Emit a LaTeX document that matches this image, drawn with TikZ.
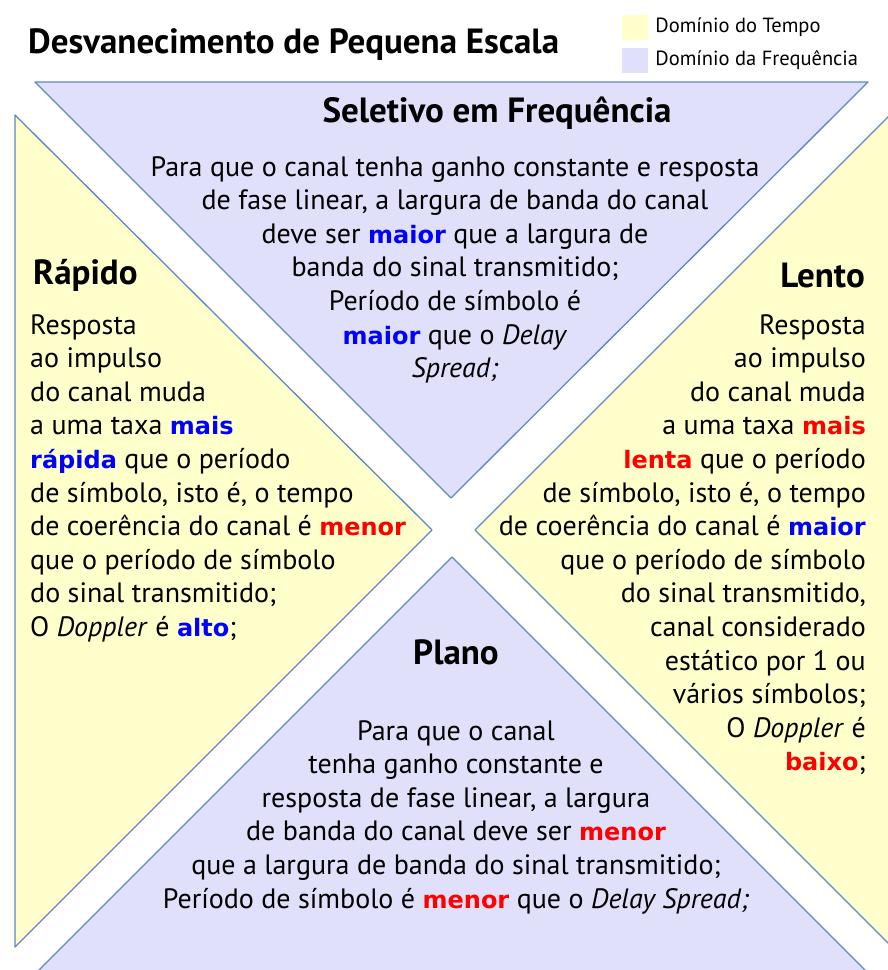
\documentclass[tikz,border=0pt]{standalone}
\usepackage{fontspec}
\setmainfont{PT Sans}
\newfontfamily\wordfont{DejaVu Sans}
\usetikzlibrary{positioning}
\definecolor{lavfill}{RGB}{224,224,250}
\definecolor{yelfill}{RGB}{255,255,204}
\definecolor{edgeblue}{RGB}{95,135,200}
\tikzstyle{freq}  = [
    fill=lavfill,
    draw=edgeblue,
    line width=1.3pt,
    line join=round
]
\tikzstyle{tempo} = [
    fill=yelfill,
    draw=edgeblue,
    line width=1.3pt,
    line join=round
]
\tikzstyle{legbox} = [
    minimum width=26pt,
    minimum height=25pt,
    inner sep=0pt
]
\tikzstyle{heading} = [
    font=\fontsize{35}{40}\selectfont\bfseries,
    inner sep=0pt
]
\tikzstyle{body} = [
    font=\fontsize{28}{33.6}\selectfont,
    inner sep=0pt
]
\newcommand{\azul}[1]{\textcolor{blue}{\fontsize{24}{33.6}\wordfont\bfseries #1}}
\newcommand{\verm}[1]{\textcolor{red}{\fontsize{24}{33.6}\wordfont\bfseries #1}}

\begin{document}
\begin{tikzpicture}[x=1pt, y=-1pt]
\useasboundingbox (0,0) rectangle (888,970);
\clip (0,0) rectangle (888,970);
\fill[white] (0,0) rectangle (888,970);

% quadrantes
\draw[freq]  (35,82) -- (868,82) -- (451,498) -- cycle;
\draw[tempo] (15,115) -- (432,530) -- (15,947) -- cycle;
\draw[tempo] (475,530) -- (920,85) -- (920,975) -- cycle;
\draw[freq]  (452,557) -- (9,1000) -- (895,1000) -- cycle;

% titulo e legenda
\node[heading, anchor=west] (titulo) at (28,45) {Desvanecimento de Pequena Escala};
\node[legbox, fill=yelfill] (boxTempo) at (635,27) {};
\node[legbox, fill=lavfill] (boxFreq)  at (635,60) {};
\node[right=7pt of boxTempo, inner sep=0pt, font=\fontsize{20.5}{24}\selectfont] (legTempo) {Domínio do Tempo};
\node[right=7pt of boxFreq, inner sep=0pt, font=\fontsize{20.5}{24}\selectfont]  (legFreq)  {Domínio da Frequência};

% titulos dos quadrantes
\node[heading] (seletivo) at (497,113) {Seletivo em Frequência};
\node[heading, anchor=west] (rapido) at (33,275) {Rápido};
\node[heading, anchor=east] (lento)  at (865,275) {Lento};
\node[heading] (plano) at (456,652) {Plano};

% textos
\node[body, align=center, anchor=north] (txtSeletivo) at (455,156) {%
Para que o canal tenha ganho constante e resposta\\
de fase linear, a largura de banda do canal\\
deve ser \azul{maior} que a largura de\\
banda do sinal transmitido;\\
Período de símbolo é\\
\azul{maior} que o \textit{Delay}\\
\textit{Spread;}};

\node[body, align=left, anchor=north west] (txtRapido) at (30,314) {%
Resposta\\
ao impulso\\
do canal muda\\
a uma taxa \azul{mais}\\
\azul{rápida} que o período\\
de símbolo, isto é, o tempo\\
de coerência do canal é \verm{menor}\\
que o período de símbolo\\
do sinal transmitido;\\
O \textit{Doppler} é \azul{alto};};

\node[body, align=right, anchor=north east] (txtLento) at (866,314) {%
Resposta\\
ao impulso\\
do canal muda\\
a uma taxa \verm{mais}\\
\verm{lenta} que o período\\
de símbolo, isto é, o tempo\\
de coerência do canal é \azul{maior}\\
que o período de símbolo\\
do sinal transmitido,\\
canal considerado\\
estático por 1 ou\\
vários símbolos;\\
O \textit{Doppler} é\\
\verm{baixo};};

\node[body, align=center, anchor=north] (txtPlano) at (456,720) {%
Para que o canal\\
tenha ganho constante e\\
resposta de fase linear, a largura\\
de banda do canal deve ser \verm{menor}\\
que a largura de banda do sinal transmitido;\\
Período de símbolo é \verm{menor} que o \textit{Delay Spread;}};

\end{tikzpicture}
\end{document}
